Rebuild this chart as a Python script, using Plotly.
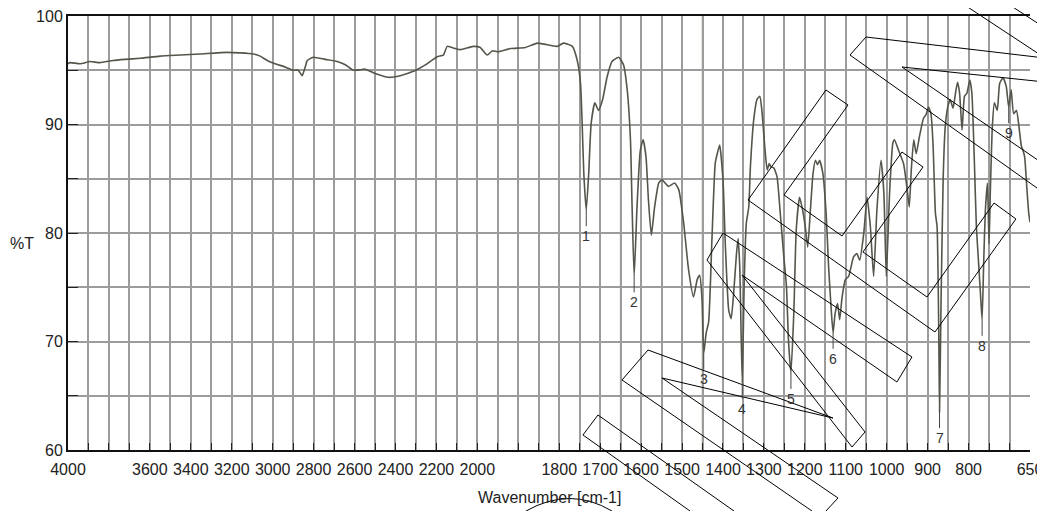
import plotly.graph_objects as go

# ---- data ----
wavenumber = [4000, 3990, 3941, 3892, 3844, 3780, 3721, 3648, 3550, 3452, 3354, 3222, 3159, 3095,
              3061, 3027, 2988, 2939, 2900, 2875, 2856, 2841, 2831, 2802, 2743, 2685, 2645, 2606,
              2572, 2548, 2499, 2435, 2377, 2313, 2254, 2196, 2166, 2147, 2108, 2083, 2020,
              1993, 1976, 1963, 1949, 1919, 1883, 1853, 1805, 1790, 1768, 1756, 1748, 1744, 1740,
              1734, 1728, 1722, 1713, 1704, 1694, 1683, 1671, 1655, 1643, 1634, 1626, 1622, 1617,
              1610, 1602, 1595, 1588, 1582, 1575, 1567, 1557, 1549, 1533, 1518, 1508, 1496, 1484,
              1472, 1463, 1457, 1451, 1447, 1441, 1435, 1427, 1419, 1414, 1408, 1400, 1394, 1386,
              1380, 1374, 1367, 1363, 1359, 1353, 1348, 1343, 1337, 1333, 1325, 1317, 1310, 1305,
              1298, 1292, 1287, 1283, 1276, 1268, 1260, 1252, 1245, 1240, 1234, 1227, 1221, 1213,
              1207, 1199, 1193, 1187, 1180, 1174, 1169, 1164, 1156, 1148, 1142, 1135, 1131, 1126,
              1120, 1115, 1109, 1101, 1093, 1081, 1073, 1066, 1056, 1048, 1040, 1032, 1024, 1014,
              1007, 1001, 993, 985, 981, 971, 959, 950, 945, 940, 934, 928, 920, 910, 904, 898,
              892, 887, 881, 877, 873, 871, 867, 862, 857, 851, 845, 838, 832, 827, 822, 816, 810,
              804, 797, 792, 786, 781, 775, 771, 767, 763, 759, 754, 750, 747, 742, 737, 730, 724,
              716, 708, 702, 696, 690, 683, 677, 671, 667, 663, 658, 653, 650]
transmittance = [95.6, 95.7, 95.6, 95.8, 95.7, 95.9, 96.0, 96.1, 96.3, 96.4, 96.5, 96.65, 96.6, 96.5,
                 96.3, 95.9, 95.6, 95.3, 95.0, 95.0, 94.5, 95.3, 95.9, 96.2, 96.0, 95.8, 95.5, 95.0,
                 95.05, 95.1, 94.7, 94.35, 94.5, 94.9, 95.5, 96.25, 96.4, 97.2, 97.0, 96.9, 97.2,
                 97.1, 96.4, 96.8, 96.7, 97.0, 97.1, 97.5, 97.2, 97.5, 97.2, 95.9, 93.8, 90.1, 85.5,
                 82.1, 85.5, 90.1, 92.0, 91.3, 92.3, 94.4, 95.8, 96.2, 95.5, 93.2, 88.6, 82.4, 76.0,
                 82.4, 87.6, 88.6, 87.0, 83.0, 79.8, 82.4, 84.6, 84.9, 84.3, 84.6, 84.0, 80.9, 76.6,
                 74.1, 75.7, 76.1, 73.8, 68.9, 70.8, 71.8, 79.4, 86.4, 87.3, 88.1, 84.9, 78.7, 72.9,
                 72.1, 74.4, 78.1, 79.5, 76.9, 66.2, 75.7, 80.9, 82.4, 86.1, 90.4, 92.3, 92.6, 91.3,
                 88.0, 85.8, 86.4, 86.1, 86.0, 85.2, 81.8, 78.1, 75.1, 70.1, 67.1, 72.6, 80.3, 83.3,
                 82.4, 80.6, 78.7, 81.8, 85.5, 86.7, 86.3, 86.7, 85.5, 81.8, 76.9, 72.6, 70.8, 72.6,
                 73.5, 72.0, 74.1, 75.7, 76.0, 77.8, 78.1, 77.5, 80.0, 83.3, 80.6, 76.0, 82.1, 86.7,
                 83.7, 76.0, 83.7, 88.3, 88.6, 87.6, 86.4, 84.0, 82.4, 85.8, 88.6, 87.3, 88.9, 90.6,
                 90.9, 91.6, 91.0, 88.3, 81.8, 80.6, 71.4, 63.5, 74.4, 85.2, 89.8, 91.6, 92.3, 91.5,
                 92.9, 93.9, 92.9, 89.5, 92.6, 92.9, 94.1, 92.9, 86.7, 80.6, 76.9, 74.4, 72.0, 77.5,
                 82.1, 84.6, 79.0, 83.7, 89.8, 92.0, 91.3, 93.8, 94.3, 93.5, 91.6, 93.2, 91.0, 91.3,
                 89.8, 88.0, 87.6, 87.0, 84.3, 81.8, 81.0]

peak_labels = ["1", "2", "3", "4", "5", "6", "7", "8", "9"]
peak_wn = [1734, 1617, 1447, 1353, 1234, 1131, 871, 767, 702]
peak_t = [82.1, 76.0, 68.9, 66.2, 67.1, 70.8, 63.5, 72.0, 91.6]

x_tick_labels = [4000, 3600, 3400, 3200, 3000, 2800, 2600, 2400, 2200, 2000,
                 1800, 1700, 1600, 1500, 1400, 1300, 1200, 1100, 1000, 900, 800, 650]
y_tick_labels = [60, 70, 80, 90, 100]
highlight_wn = [1650, 1450]

# outlined watermark strokes over the picture, in page pixels
watermark_paths = [
    [(748, 200), (826, 90), (848, 105), (784, 195), (842, 236), (902, 152), (923, 167),
     (863, 252), (927, 297), (994, 203), (1016, 219), (935, 332), (748, 200)],
    [(723, 233), (912, 357), (897, 382), (742, 275), (865, 432), (852, 447), (707, 260), (723, 233)],
    [(833, 418), (648, 350), (622, 380), (812, 511)],
    [(833, 418), (662, 378), (838, 498), (826, 511)],
    [(690, 511), (583, 435), (598, 415), (734, 511)],
    [(1045, 58), (866, 37), (850, 55), (1037, 188), (1045, 178)],
    [(1045, 82), (902, 67), (1045, 165)],
    [(957, 0), (1045, 58)],
    [(1002, 0), (1045, 28)],
]

# the page body adds an 8 px offset; the figure is sized so the plot lands where the reference has it
OFF = 8
PAGE_W, PAGE_H = 1045, 511
W, H = PAGE_W - OFF, PAGE_H - OFF
PLOT_L, PLOT_R, PLOT_T, PLOT_B = 68, 1030, 16, 450
ML, MT = PLOT_L - OFF, PLOT_T - OFF
MR = W - (PLOT_R - OFF)
MB = H - (PLOT_B - OFF)
PW, PH = PLOT_R - PLOT_L, PLOT_B - PLOT_T


# ---- axis scale: 4000-2000 at 1x, 2000-650 expanded 2x ----
def to_u(wn):
    return 4000 - wn if wn >= 2000 else 2000 + 2 * (2000 - wn)


def to_paper(px, py):
    return (px - PLOT_L) / PW, (PLOT_B - py) / PH


U_MAX = to_u(650)
u = [to_u(w) for w in wavenumber]

fig = go.Figure()
fig.add_trace(go.Scatter(x=u, y=transmittance, mode="lines",
                         line=dict(color="#55554c", width=1.6, shape="spline", smoothing=0.5),
                         hoverinfo="skip", showlegend=False))

grid_u = list(range(0, U_MAX + 1, 100))
label_u = {to_u(w): str(w) for w in x_tick_labels}
ticktext = [label_u.get(g, "") for g in grid_u]

for w in highlight_wn:
    fig.add_shape(type="line", xref="x", yref="y", x0=to_u(w), x1=to_u(w), y0=60, y1=100,
                  line=dict(color="#b8ad88", width=1.6), layer="below")

for lab, w, t in zip(peak_labels, peak_wn, peak_t):
    fig.add_annotation(x=to_u(w), y=t, text=lab, showarrow=True, arrowhead=0,
                       arrowwidth=1, arrowcolor="#444", ax=0, ay=16, yanchor="top",
                       font=dict(family="Liberation Sans, Arial", size=14, color="#333"))

for pts in watermark_paths:
    pp = [to_paper(x, y) for x, y in pts]
    d = "M " + " L ".join(f"{a:.4f},{b:.4f}" for a, b in pp)
    fig.add_shape(type="path", xref="paper", yref="paper", path=d,
                  line=dict(color="black", width=1), layer="above")

a0 = to_paper(526, 511)
a1 = to_paper(570, 486)
a2 = to_paper(612, 511)
fig.add_shape(type="path", xref="paper", yref="paper",
              path=f"M {a0[0]:.4f},{a0[1]:.4f} Q {a1[0]:.4f},{a1[1]:.4f} {a2[0]:.4f},{a2[1]:.4f}",
              line=dict(color="black", width=1))

tx, ty = to_paper(549, 497)
fig.add_annotation(xref="paper", yref="paper", x=tx, y=ty, text="Wavenumber [cm-1]",
                   xanchor="center", yanchor="middle", showarrow=False,
                   font=dict(family="Liberation Sans, Arial", size=16, color="#222"))
px_, py_ = to_paper(22, 243)
fig.add_annotation(xref="paper", yref="paper", x=px_, y=py_, text="%T",
                   xanchor="center", yanchor="middle", showarrow=False,
                   font=dict(family="Liberation Sans, Arial", size=16, color="#222"))

fig.update_xaxes(range=[0, U_MAX], tickmode="array", tickvals=grid_u, ticktext=ticktext,
                 showgrid=True, gridcolor="#9c9c9c", gridwidth=1.5,
                 ticks="inside", ticklen=7, tickcolor="#222", tickwidth=1,
                 showline=True, linecolor="#111", linewidth=2, mirror=True,
                 tickfont=dict(family="Liberation Sans, Arial", size=16, color="#222"),
                 ticklabelstandoff=4, ticklabeloverflow="allow",
                 automargin=False, zeroline=False)
fig.update_yaxes(range=[60, 100], tickmode="array", tickvals=list(range(60, 101, 5)),
                 ticktext=[str(v) if v in y_tick_labels else "" for v in range(60, 101, 5)],
                 showgrid=True, gridcolor="#9c9c9c", gridwidth=1.5,
                 ticks="inside", ticklen=10, tickcolor="#222", tickwidth=1,
                 showline=True, linecolor="#111", linewidth=2,
                 tickfont=dict(family="Liberation Sans, Arial", size=16, color="#222"),
                 ticklabeloverflow="allow", automargin=False, zeroline=False)

fig.update_layout(width=W, height=H, margin=dict(l=ML, r=MR, t=MT, b=MB),
                  plot_bgcolor="white", paper_bgcolor="white")

fig.write_html("out.html")
